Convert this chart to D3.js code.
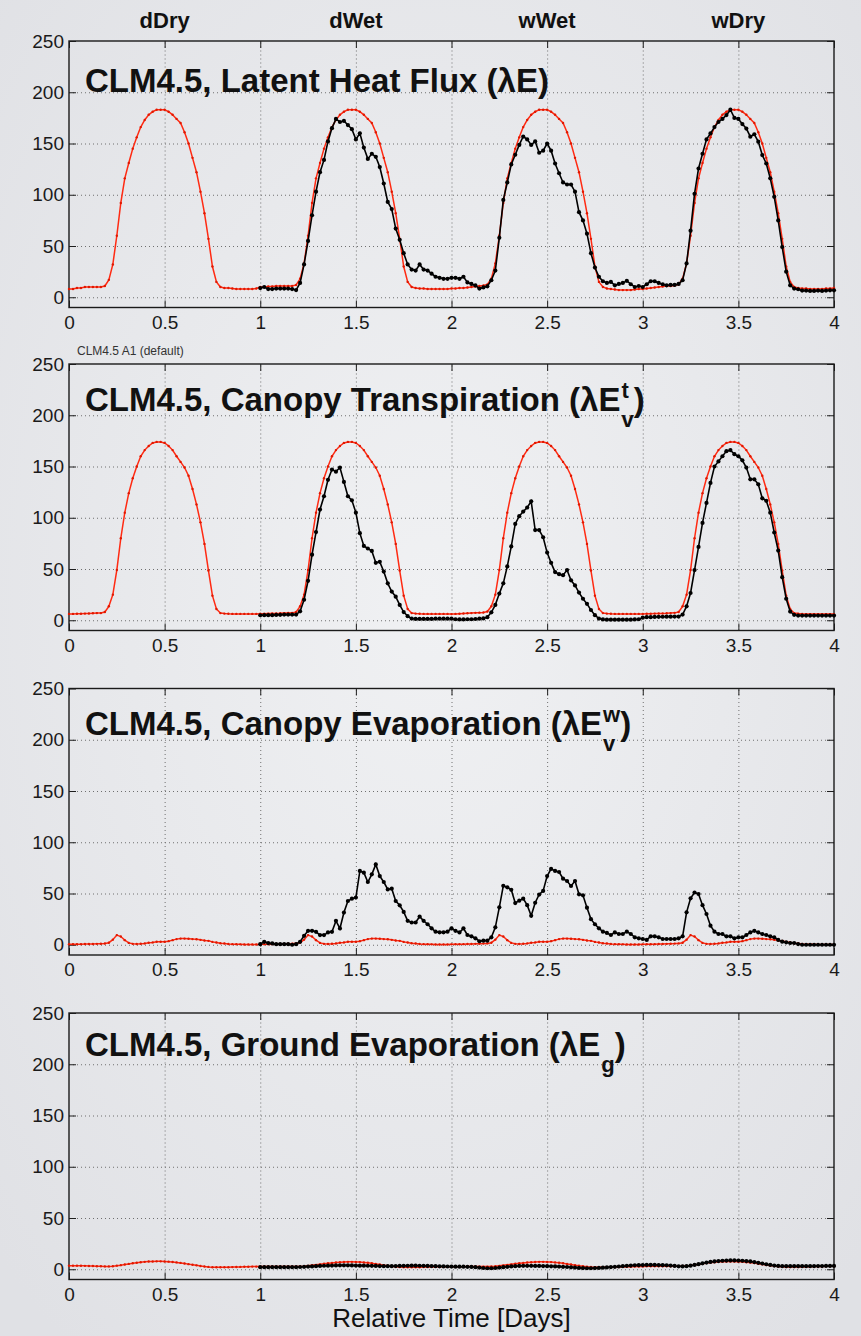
<!DOCTYPE html>
<html>
<head>
<meta charset="utf-8">
<script src="https://d3js.org/d3.v7.min.js"></script>
<style>
body { margin: 0; background: #e6e7ea; }
svg text { font-family: "Liberation Sans", Arial, Helvetica, sans-serif; fill: #111; }
</style>
</head>
<body>
<script>
// half-hourly values; red = CLM4.5 default (days 0-4), black = A1 (days 1-4)
var stepsPerDay = 48;
var dayLabels = ["dDry", "dWet", "wWet", "wDry"];
var dayCenters = [0.5, 1.5, 2.5, 3.5];
var xTicks = [0, 0.5, 1, 1.5, 2, 2.5, 3, 3.5, 4];
var yTicks = [0, 50, 100, 150, 200, 250];
var xGrid = [0.5, 1, 1.5, 2, 2.5, 3, 3.5];
var yGrid = [0, 50, 100, 150, 200];

var latentRed = [
  8, 8, 9, 9, 10, 10, 10, 10, 10, 11, 17, 32,
  60, 92, 116, 131, 145, 156, 166, 173, 178, 181, 183, 183,
  183, 181, 178, 174, 170, 161, 150, 136, 122, 103, 82, 57,
  30, 15, 10, 9, 9, 8.5, 8, 8, 8, 8, 8, 8.5,
  10, 10, 10.5, 10.5, 11, 11, 11, 11, 11, 12, 18, 33,
  60, 92, 116, 131, 145, 156, 166, 173, 178, 181, 183, 183,
  183, 181, 178, 174, 170, 161, 150, 136, 122, 103, 82, 57,
  30, 15, 10, 9, 8.5, 8.5, 8, 8, 8, 8, 8, 8,
  8.5, 8.5, 9, 9, 9.5, 10, 10.5, 11, 11.5, 12.5, 18, 33,
  60, 92, 116, 131, 145, 156, 166, 173, 178, 181, 183, 183,
  183, 181, 178, 174, 170, 161, 150, 136, 122, 103, 82, 57,
  30, 15, 10, 8.5, 8, 7.5, 7, 7, 7, 7, 7.5, 8,
  8, 8.5, 9, 9.5, 10, 10.5, 11, 11, 11.5, 12.5, 18, 33,
  60, 92, 116, 131, 145, 156, 166, 173, 178, 181, 183, 183,
  183, 181, 178, 174, 170, 161, 150, 136, 122, 103, 82, 57,
  30, 15, 10, 9, 8.5, 8.5, 8, 8, 8, 8, 8.5, 8.5,
  9
];
var latentBlack = [
  9, 10, 8, 8, 8.5, 8.5, 8.5, 8.5, 8, 7, 14, 32,
  55, 80, 103, 122, 134, 152, 165, 174, 171, 172, 168, 164,
  154, 160, 146, 135, 140, 137, 127, 111, 93, 86, 67, 56,
  43, 32, 27, 26, 32, 27, 26, 23, 20, 19, 18, 18,
  19, 19, 18, 20, 14.5, 13, 11.5, 8.5, 9.6, 10.7, 16.6, 26,
  58, 95, 112, 129.6, 139, 148.6, 156.8, 154, 148.6, 152, 141, 143,
  150, 143, 130.5, 121, 112, 110, 110, 103, 83, 75, 62, 43,
  29, 20, 15.6, 14, 15, 11.6, 13, 14, 16, 12.7, 10, 11,
  10, 12.7, 15.6, 15.6, 14, 12.7, 11.6, 12, 12, 13, 16.6, 33,
  65, 101, 125.6, 140, 154, 159.8, 166, 171, 174, 177.7, 183, 175,
  174, 169, 164.6, 156.7, 159, 151.8, 138.7, 130.5, 116, 98, 75, 49,
  25, 11.6, 8.5, 7.8, 6.5, 6.5, 6.2, 6.2, 6.5, 6.2, 6.5, 6.8,
  6.8
];

var transpRed = [
  6.2, 6.2, 6.3, 6.4, 6.5, 6.6, 6.8, 7, 7, 8, 13.6, 25,
  49, 80, 105, 124, 138.6, 150, 160, 166, 170, 173, 174, 174,
  173, 170, 166, 160, 154.5, 149, 141, 128, 113, 95.5, 74.5, 48.5,
  24, 11, 7, 6.5, 6.3, 6.2, 6.2, 6.2, 6.2, 6.2, 6.2, 6.2,
  6.3, 6.4, 6.5, 6.6, 6.7, 6.8, 7, 7.1, 7.2, 8, 13.6, 25,
  49, 80, 105, 124, 138.6, 150, 160, 166, 170, 173, 174, 174,
  173, 170, 166, 160, 154.5, 149, 141, 128, 113, 95.5, 74.5, 48.5,
  24, 11, 7, 6.5, 6.3, 6.2, 6.2, 6.2, 6.2, 6.2, 6.2, 6.2,
  6, 6.2, 6.4, 6.6, 6.8, 7, 7.2, 7.4, 7.6, 8.5, 13.6, 25,
  49, 80, 105, 124, 138.6, 150, 160, 166, 170, 173, 174, 174,
  173, 170, 166, 160, 154.5, 149, 141, 128, 113, 95.5, 74.5, 48.5,
  24, 11, 7, 6.5, 6.3, 6.2, 6.2, 6.2, 6.2, 6.2, 6.2, 6.2,
  6.2, 6.3, 6.4, 6.5, 6.6, 6.7, 6.8, 7, 7.2, 8, 13.6, 25,
  49, 80, 105, 124, 138.6, 150, 160, 166, 170, 173, 174, 174,
  173, 170, 166, 160, 154.5, 149, 141, 128, 113, 95.5, 74.5, 48.5,
  24, 11, 7, 6.5, 6.2, 6, 6, 6, 6, 6, 6, 6,
  6
];
var transpBlack = [
  4.9, 5, 5, 5, 5.2, 5.3, 5.5, 5.5, 5.5, 5.5, 8.7, 20,
  38.5, 64, 86, 108, 121, 137, 147, 145, 149, 135, 121, 117,
  105, 85, 72.5, 70, 67.6, 56, 57, 47.5, 36, 28, 23, 15,
  8, 4, 1.6, 1.3, 1.3, 1.3, 1.3, 1.3, 1.5, 1.5, 1.5, 1.5,
  1.5, 1, 0.8, 0.8, 1, 1, 1.2, 1.5, 1.8, 3, 7.7, 15,
  26, 36, 52.5, 72, 94, 101.5, 106, 110, 116, 88, 88, 81,
  66, 56, 47, 45, 44, 49, 39, 34, 27, 21, 16, 10,
  5, 1.6, 0.8, 0.6, 0.6, 0.6, 0.6, 0.6, 0.6, 0.6, 0.8, 1,
  2.5, 3, 3, 3.2, 3.3, 3.4, 3.5, 3.5, 3.6, 3.6, 5.5, 13.6,
  26.6, 49, 71.5, 95, 114.5, 134, 150, 155, 160, 165, 166, 162,
  160, 156, 149, 137.5, 137.5, 132.6, 119, 116.5, 105, 85.6, 68, 42,
  21, 8.5, 5.3, 4.6, 4.6, 4.6, 4.6, 4.6, 4.6, 4.6, 4.6, 4.6,
  4.6
];

var canopyEvapRed = [
  0.5, 0.5, 0.5, 0.6, 0.7, 0.8, 0.8, 0.9, 1, 1.2, 2, 5,
  9.4, 8, 4.5, 1.8, 0.9, 0.8, 1, 1.3, 2, 2.3, 2.9, 3,
  2.9, 3.5, 4.5, 5.5, 6, 6, 5.8, 5.5, 5.3, 4.8, 4.2, 3.8,
  2.8, 2.2, 1.5, 1.2, 0.8, 0.6, 0.5, 0.4, 0.3, 0.2, 0.2, 0.3,
  0.4, 0.5, 0.5, 0.6, 0.7, 0.8, 0.9, 1, 1.1, 1.3, 2, 5,
  9.4, 8, 4.5, 1.8, 0.9, 0.8, 1, 1.3, 2, 2.3, 2.9, 3,
  2.9, 3.5, 4.5, 5.5, 6, 6, 5.8, 5.5, 5.3, 4.8, 4.2, 3.8,
  2.8, 2.2, 1.5, 1.2, 0.8, 0.6, 0.5, 0.4, 0.3, 0.2, 0.2, 0.3,
  0.4, 0.5, 0.5, 0.6, 0.7, 0.8, 0.9, 1, 1.1, 1.3, 2, 5,
  9.4, 8, 4.5, 1.8, 0.9, 0.8, 1, 1.3, 2, 2.3, 2.9, 3,
  2.9, 3.5, 4.5, 5.5, 6, 6, 5.8, 5.5, 5.3, 4.8, 4.2, 3.8,
  2.8, 2.2, 1.5, 1.2, 0.8, 0.6, 0.5, 0.4, 0.3, 0.2, 0.2, 0.3,
  0.4, 0.5, 0.5, 0.6, 0.7, 0.8, 0.9, 1, 1.1, 1.3, 2, 5,
  9.4, 8, 4.5, 1.8, 0.9, 0.8, 1, 1.3, 2, 2.3, 2.9, 3,
  2.9, 3.5, 4.5, 5.5, 6, 6, 5.8, 5.5, 5.3, 4.8, 4.2, 3.8,
  2.8, 2.2, 1.5, 1.2, 0.8, 0.6, 0.5, 0.4, 0.3, 0.2, 0.2, 0.3,
  0.3
];
var canopyEvapBlack = [
  0.6, 2.9, 1.6, 1.3, 0.6, 0.6, 0.6, 0.6, 0, 0.6, 2.9, 8.7,
  13.6, 13.6, 12.6, 9.4, 9.4, 12, 12.6, 23.3, 15.9, 31.4, 42.7, 45,
  46, 72, 70.3, 61.2, 68.7, 78.4, 67, 61.2, 54, 54.7, 42.7, 38.5,
  32, 23.3, 21.7, 21.7, 27.5, 23.3, 20, 16, 12.8, 12.1, 12.1, 12.8,
  16, 13.6, 12, 16, 9.5, 8.2, 6.3, 3.4, 4, 4, 7.2, 17,
  36.5, 57.5, 56, 53.6, 40.7, 43, 45, 38.6, 28.2, 41, 49, 52.5,
  67, 74, 72, 71, 64.5, 62.2, 57.3, 62.2, 49.2, 48.2, 36.2, 25,
  20, 16, 12.8, 11.5, 9.5, 12, 10.5, 10.5, 12.8, 10.5, 7.2, 6.3,
  5.6, 4.7, 8.2, 8.2, 7.2, 5.6, 5.6, 5.6, 5.6, 6.3, 8.2, 31.6,
  45.3, 51, 49.5, 38.6, 30, 18.6, 12.8, 10.5, 10.5, 8.2, 8.2, 6.3,
  7.2, 7.2, 9.5, 12, 13.6, 12, 10.5, 9.5, 8.2, 7.2, 4.7, 3,
  2.4, 1.7, 1.7, 0.7, 0, 0, 0, 0, 0, 0, 0, 0,
  0
];

var groundEvapRed = [
  3.5, 3.5, 3.5, 3.4, 3.3, 3.2, 3.1, 3, 2.9, 2.8, 2.8, 3,
  3.5, 4, 4.6, 5.2, 5.8, 6.3, 6.8, 7.2, 7.5, 7.6, 7.7, 7.7,
  7.6, 7.4, 7.1, 6.7, 6.2, 5.6, 5, 4.4, 3.8, 3.2, 2.7, 2.3,
  2, 1.9, 1.9, 2, 2, 2.1, 2.2, 2.3, 2.4, 2.5, 2.6, 2.6,
  2.6, 2.6, 2.6, 2.6, 2.6, 2.6, 2.6, 2.6, 2.6, 2.6, 2.7, 2.9,
  3.3, 3.8, 4.3, 4.8, 5.3, 5.8, 6.2, 6.6, 6.9, 7.1, 7.2, 7.2,
  7.1, 7, 6.7, 6.3, 5.8, 5.2, 4.6, 4, 3.4, 2.9, 2.5, 2.2,
  2, 1.9, 1.9, 2, 2, 2.1, 2.2, 2.3, 2.4, 2.4, 2.5, 2.5,
  2.5, 2.5, 2.5, 2.5, 2.6, 2.6, 2.6, 2.6, 2.6, 2.6, 2.7, 2.9,
  3.3, 3.8, 4.3, 4.8, 5.3, 5.8, 6.2, 6.6, 6.9, 7.1, 7.2, 7.2,
  7.1, 7, 6.7, 6.3, 5.8, 5.2, 4.6, 4, 3.4, 2.9, 2.5, 2.2,
  2, 1.9, 1.9, 2, 2, 2.1, 2.2, 2.3, 2.4, 2.5, 2.6, 2.7,
  2.8, 2.9, 3, 3, 3, 3, 3, 3, 3, 3, 3.1, 3.3,
  3.7, 4.2, 4.8, 5.4, 6, 6.5, 6.9, 7.2, 7.4, 7.5, 7.5, 7.5,
  7.4, 7.2, 6.9, 6.5, 6, 5.4, 4.8, 4.2, 3.6, 3.1, 2.7, 2.4,
  2.2, 2.1, 2.1, 2.2, 2.3, 2.4, 2.5, 2.6, 2.7, 2.8, 2.9, 3,
  3
];
var groundEvapBlack = [
  2, 2, 2, 2, 2, 2, 2, 2, 2, 2, 2.2, 2.4,
  2.6, 2.8, 3, 3.2, 3.4, 3.5, 3.6, 3.7, 3.8, 3.8, 3.8, 3.7,
  3.6, 3.5, 3.5, 3.4, 3.3, 3.2, 3.1, 3, 3, 3, 3.1, 3.2,
  3.3, 3.4, 3.5, 3.5, 3.4, 3.3, 3.2, 3.1, 3, 2.9, 2.8, 2.7,
  2.6, 2.5, 2.5, 2.5, 2.4, 2.3, 2, 1.6, 1.2, 1, 1, 1.2,
  1.6, 2, 2.4, 2.8, 3, 3.2, 3.3, 3.3, 3.3, 3.2, 3.2, 3.1,
  3, 2.9, 2.8, 2.6, 2.4, 2.2, 1.9, 1.6, 1.3, 1.1, 1, 1,
  1.1, 1.3, 1.5, 1.8, 2.1, 2.4, 2.7, 3, 3.3, 3.6, 3.9, 4,
  4.1, 4.2, 4.2, 4.2, 4.1, 4, 3.9, 3.6, 3.2, 2.9, 2.8, 3,
  3.5, 4.2, 5, 5.8, 6.5, 7.1, 7.6, 8, 8.3, 8.5, 8.6, 8.6,
  8.5, 8.3, 8, 7.6, 7, 6.3, 5.6, 4.9, 4.2, 3.6, 3.2, 3,
  3, 3, 3, 3, 3, 3, 3, 3, 3.1, 3.1, 3.2, 3.2,
  3.2
];

var panels = [
  {title: "CLM4.5, Latent Heat Flux (\u03bbE", sup: "", sub: "", red: latentRed, black: latentBlack},
  {title: "CLM4.5, Canopy Transpiration (\u03bbE", sup: "t", sub: "v", red: transpRed, black: transpBlack},
  {title: "CLM4.5, Canopy Evaporation (\u03bbE", sup: "w", sub: "v", red: canopyEvapRed, black: canopyEvapBlack},
  {title: "CLM4.5, Ground Evaporation (\u03bbE", sup: "", sub: "g", red: groundEvapRed, black: groundEvapBlack}
];

var svgWidth = 861;
var svgHeight = 1336;
var plotLeft = 69;
var plotRight = 834;
var panelTops = [41, 364, 688.5, 1013];
var titleOffsets = [51, 47, 46, 43];
var panelHeight = 266.5;

var svg = d3.select("body")
  .append("svg")
  .attr("width", svgWidth)
  .attr("height", svgHeight);

var grad = svg.append("defs").append("radialGradient")
  .attr("id", "bg")
  .attr("cx", "50%").attr("cy", "45%").attr("r", "70%");
grad.append("stop").attr("offset", "0%").attr("stop-color", "#f0f1f3");
grad.append("stop").attr("offset", "100%").attr("stop-color", "#e0e1e5");
svg.append("rect")
  .attr("width", svgWidth)
  .attr("height", svgHeight)
  .attr("fill", "url(#bg)");

var xScale = d3.scaleLinear().domain([0, 4]).range([plotLeft, plotRight]);
var plotWidth = plotRight - plotLeft;

svg.selectAll(".dayLabel")
  .data(dayLabels)
  .enter()
  .append("text")
  .attr("class", "dayLabel")
  .attr("x", (d, i) => xScale(dayCenters[i]))
  .attr("y", 28)
  .attr("text-anchor", "middle")
  .attr("font-size", "22px")
  .attr("font-weight", "bold")
  .text(d => d);

function styleAxis(g, labels) {
  g.select(".domain").remove();
  g.selectAll("line").attr("stroke", "#1e1e1e").attr("stroke-width", 1);
  g.attr("font-family", null).attr("font-size", null);
  if (labels) {
    g.selectAll("text").attr("font-size", "19px").style("fill", "#1a1a1a");
  } else {
    g.selectAll("text").remove();
  }
}

panels.forEach(function(p, k) {
  var top = panelTops[k];
  var bottom = top + panelHeight;
  var yScale = d3.scaleLinear().domain([-10, 250]).range([bottom, top]);
  var chartGroup = svg.append("g");

  // dotted grid
  var gx = chartGroup.append("g")
    .attr("transform", `translate(0, ${bottom})`)
    .call(d3.axisBottom(xScale).tickValues(xGrid).tickSize(-panelHeight).tickFormat(""));
  var gy = chartGroup.append("g")
    .attr("transform", `translate(${plotLeft}, 0)`)
    .call(d3.axisLeft(yScale).tickValues(yGrid).tickSize(-plotWidth).tickFormat(""));
  [gx, gy].forEach(function(g) {
    g.select(".domain").remove();
    g.selectAll("text").remove();
    g.selectAll("line")
      .attr("stroke", "#6f6f6f")
      .attr("stroke-width", 1)
      .attr("stroke-dasharray", "1,3");
  });

  // inward ticks on all four sides
  var bottomAxis = chartGroup.append("g")
    .attr("transform", `translate(0, ${bottom})`)
    .call(d3.axisBottom(xScale).tickValues(xTicks).tickSizeInner(-7).tickSizeOuter(0).tickPadding(8).tickFormat(d => d));
  styleAxis(bottomAxis, true);
  var topAxis = chartGroup.append("g")
    .attr("transform", `translate(0, ${top})`)
    .call(d3.axisTop(xScale).tickValues(xTicks).tickSizeInner(-7).tickSizeOuter(0));
  styleAxis(topAxis, false);
  var leftAxis = chartGroup.append("g")
    .attr("transform", `translate(${plotLeft}, 0)`)
    .call(d3.axisLeft(yScale).tickValues(yTicks).tickSizeInner(-7).tickSizeOuter(0).tickPadding(5));
  styleAxis(leftAxis, true);
  var rightAxis = chartGroup.append("g")
    .attr("transform", `translate(${plotRight}, 0)`)
    .call(d3.axisRight(yScale).tickValues(yTicks).tickSizeInner(-7).tickSizeOuter(0));
  styleAxis(rightAxis, false);

  chartGroup.append("rect")
    .attr("x", plotLeft)
    .attr("y", top)
    .attr("width", plotWidth)
    .attr("height", panelHeight)
    .attr("fill", "none")
    .attr("stroke", "#1a1a1a")
    .attr("stroke-width", 1.4);

  var line = d3.line()
    .x(d => xScale(d.t))
    .y(d => yScale(d.v));
  var redData = p.red.map((v, i) => ({t: i / stepsPerDay, v: v}));
  var blackData = p.black.map((v, i) => ({t: 1 + i / stepsPerDay, v: v}));

  chartGroup.append("path")
    .datum(redData)
    .attr("d", line)
    .attr("fill", "none")
    .attr("stroke", "#ff2a12")
    .attr("stroke-width", 1.5);
  chartGroup.selectAll(".redDot")
    .data(redData)
    .enter()
    .append("circle")
    .attr("cx", d => xScale(d.t))
    .attr("cy", d => yScale(d.v))
    .attr("r", 1.2)
    .attr("fill", "#e01800");

  chartGroup.append("path")
    .datum(blackData)
    .attr("d", line)
    .attr("fill", "none")
    .attr("stroke", "#000")
    .attr("stroke-width", 1.6);
  chartGroup.selectAll(".blackDot")
    .data(blackData)
    .enter()
    .append("circle")
    .attr("cx", d => xScale(d.t))
    .attr("cy", d => yScale(d.v))
    .attr("r", 2.1)
    .attr("fill", "#000");

  // title with stacked super/subscript
  var tx = 85;
  var ty = top + titleOffsets[k];
  var title = chartGroup.append("text")
    .attr("x", tx)
    .attr("y", ty)
    .attr("font-size", "33px")
    .attr("font-weight", "bold")
    .text(p.title);
  var end = tx + title.node().getComputedTextLength();
  var scriptW = 0;
  if (p.sup) {
    var sup = chartGroup.append("text")
      .attr("x", end + 1)
      .attr("y", ty - 13)
      .attr("font-size", "22px")
      .attr("font-weight", "bold")
      .text(p.sup);
    scriptW = Math.max(scriptW, sup.node().getComputedTextLength() + 1);
  }
  if (p.sub) {
    var sub = chartGroup.append("text")
      .attr("x", end + 1)
      .attr("y", ty + 16)
      .attr("font-size", "22px")
      .attr("font-weight", "bold")
      .text(p.sub);
    scriptW = Math.max(scriptW, sub.node().getComputedTextLength() + 1);
  }
  chartGroup.append("text")
    .attr("x", end + scriptW)
    .attr("y", ty)
    .attr("font-size", "33px")
    .attr("font-weight", "bold")
    .text(")");
});

svg.append("text")
  .attr("x", 77)
  .attr("y", 355)
  .attr("font-size", "12px")
  .style("fill", "#333")
  .text("CLM4.5 A1 (default)");

svg.append("text")
  .attr("x", xScale(2))
  .attr("y", 1327)
  .attr("text-anchor", "middle")
  .attr("font-size", "26px")
  .text("Relative Time [Days]");
</script>
</body>
</html>
